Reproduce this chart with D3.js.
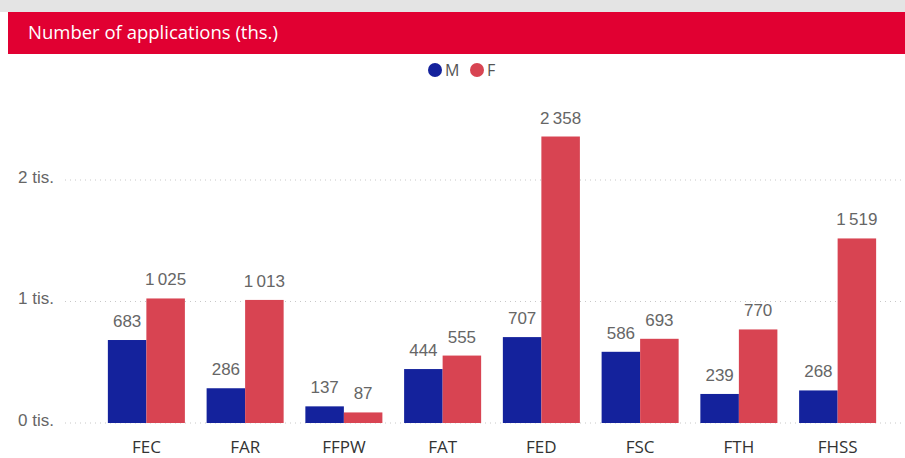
<!DOCTYPE html>
<html>
<head>
<meta charset="utf-8">
<script src="https://cdn.jsdelivr.net/npm/d3@7"></script>
<style>
  body { margin: 0; background: #fff; }
  svg { display: block; }
</style>
</head>
<body>
<svg id="chart"></svg>
<script>
const categories = ["FEC", "FAR", "FFPW", "FAT", "FED", "FSC", "FTH", "FHSS"];
const seriesNames = ["M", "F"];
const valuesM = [683, 286, 137, 444, 707, 586, 239, 268];
const valuesF = [1025, 1013, 87, 555, 2358, 693, 770, 1519];
const yTicks = [0, 1000, 2000];
const yTickLabels = ["0 tis.", "1 tis.", "2 tis."];
const titleText = "Number of applications (ths.)";

const width = 905;
const height = 458;
const colors = { M: "#14229c", F: "#d84452" };

const svg = d3.select("#chart").attr("width", width).attr("height", height);

// top strip + banner
svg.append("rect").attr("x", 0).attr("y", 0).attr("width", width).attr("height", 12).attr("fill", "#e4e4e4");
svg.append("rect").attr("x", 8).attr("y", 12).attr("width", width - 8).attr("height", 42).attr("fill", "#e10032");
svg.append("text")
  .attr("x", 28).attr("y", 39)
  .attr("fill", "#fff")
  .attr("font-family", "'Open Sans', sans-serif")
  .attr("font-size", 18.5)
  .text(titleText);

// legend
const legend = svg.append("g").attr("font-family", "'Open Sans', sans-serif").attr("font-size", 16).attr("fill", "#555");
const legendX = [435, 477];
seriesNames.forEach((s, i) => {
  legend.append("circle").attr("cx", legendX[i]).attr("cy", 70).attr("r", 7).attr("fill", colors[s]);
  legend.append("text").attr("x", legendX[i] + 10).attr("y", 76).text(s);
});

// scales
const x0 = d3.scaleBand().domain(categories).range([97, 887]).paddingInner(0.22).paddingOuter(0.11);
const x1 = d3.scaleBand().domain(seriesNames).range([0, x0.bandwidth()]);
const y = d3.scaleLinear().domain([0, 2000]).range([423, 180]);

// gridlines
svg.append("g")
  .selectAll("line")
  .data(yTicks)
  .join("line")
  .attr("x1", 65).attr("x2", width)
  .attr("y1", (d) => y(d)).attr("y2", (d) => y(d))
  .attr("stroke", "#c8c8c8")
  .attr("stroke-width", 1)
  .attr("stroke-dasharray", "1,4");

// y axis labels
const yAxis = d3.axisLeft(y).tickValues(yTicks).tickFormat((d, i) => yTickLabels[i]).tickSize(0).tickPadding(0);
const yAxisG = svg.append("g").attr("transform", "translate(54,-3)").call(yAxis);
yAxisG.select(".domain").remove();
yAxisG.selectAll("text")
  .attr("font-family", "'Liberation Sans', Arial, sans-serif")
  .attr("font-size", 17)
  .attr("fill", "#666");

// x axis labels
const xAxis = d3.axisBottom(x0).tickSize(0).tickPadding(0);
const xAxisG = svg.append("g").attr("transform", "translate(0,441)").call(xAxis);
xAxisG.select(".domain").remove();
xAxisG.selectAll("text")
  .attr("font-family", "'Open Sans', sans-serif")
  .attr("font-size", 17)
  .attr("fill", "#333");

// bars
const rows = categories.map((c, i) => ({ cat: c, M: valuesM[i], F: valuesF[i] }));
const fmt = (v) => d3.format(",")(v).replace(/,/g, "\u2009");

const groups = svg.append("g")
  .selectAll("g")
  .data(rows)
  .join("g")
  .attr("transform", (d) => `translate(${x0(d.cat)},0)`);

groups.selectAll("rect")
  .data((d) => seriesNames.map((s) => ({ key: s, value: d[s] })))
  .join("rect")
  .attr("x", (d) => x1(d.key))
  .attr("y", (d) => y(d.value))
  .attr("width", x1.bandwidth())
  .attr("height", (d) => y(0) - y(d.value))
  .attr("fill", (d) => colors[d.key]);

groups.selectAll("text.val")
  .data((d) => seriesNames.map((s) => ({ key: s, value: d[s] })))
  .join("text")
  .attr("class", "val")
  .attr("x", (d) => x1(d.key) + x1.bandwidth() / 2)
  .attr("y", (d) => y(d.value) - 13)
  .attr("text-anchor", "middle")
  .attr("font-family", "'Liberation Sans', Arial, sans-serif")
  .attr("font-size", 17)
  .attr("fill", "#666")
  .text((d) => fmt(d.value));
</script>
</body>
</html>
